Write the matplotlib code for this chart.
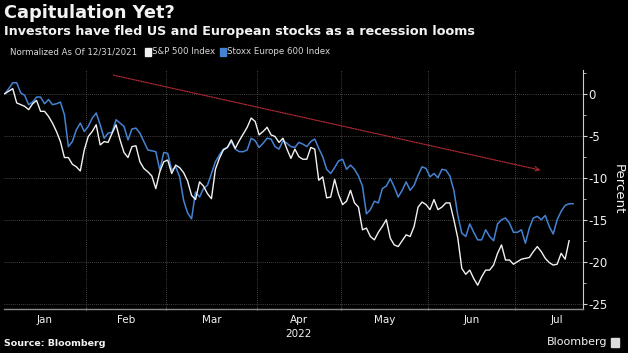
import numpy as np
import pandas as pd
import matplotlib
matplotlib.use("Agg")
import matplotlib.pyplot as plt
from matplotlib.patches import Rectangle

# ---- data (percent change, normalized as of 12/31/2021), one value per weekday from 2022-01-03
stoxx = [
    0.0, 0.6, 1.3, 1.3, 0.1, -0.2, -1.3, -1.0, -0.4, -0.4,
    -1.2, -0.7, -1.3, -1.2, -1.0, -2.5, -6.3, -5.7, -4.3, -3.5,
    -4.5, -3.9, -2.9, -2.3, -3.7, -5.3, -4.7, -4.6, -3.1, -3.5,
    -3.9, -5.5, -4.2, -4.1, -4.7, -5.7, -6.7, -6.8, -6.9, -9.1,
    -7.0, -7.1, -9.1, -8.7, -9.9, -12.7, -14.2, -14.9, -11.7, -12.3,
    -11.3, -10.9, -9.5, -8.1, -7.3, -6.6, -6.4, -5.7, -6.6, -6.9,
    -6.9, -6.7, -5.3, -5.6, -6.4, -5.9, -5.3, -5.4, -6.3, -6.6,
    -5.6, -5.9, -6.3, -6.4, -5.8, -6.0, -6.3, -5.7, -5.4, -6.5,
    -7.5, -9.0, -9.5, -8.8, -8.0, -7.8, -9.0, -8.5, -9.0, -9.8,
    -11.0, -14.3, -13.8, -12.8, -13.0, -11.3, -11.0, -10.1, -11.1, -12.3,
    -11.5, -10.5, -11.5, -10.9, -9.7, -8.7, -8.9, -9.9, -9.5, -10.0,
    -9.0, -9.1, -9.8, -11.5, -14.5, -16.6, -17.0, -15.5, -16.5, -17.4,
    -17.4, -16.2, -17.0, -17.5, -15.5, -15.0, -14.8, -15.4, -16.5, -16.5,
    -16.2, -17.8, -16.0, -14.8, -14.6, -15.0, -14.5, -15.8, -16.7, -15.0,
    -14.0, -13.3, -13.1, -13.1,
]
spx = [
    0.0, 0.3, 0.6, -1.1, -1.3, -1.5, -1.9, -1.2, -0.8, -2.1,
    -2.1, -2.7, -3.5, -4.5, -5.7, -7.6, -7.6, -8.4, -8.7, -9.2,
    -6.7, -5.1, -4.5, -3.7, -6.1, -5.7, -5.8, -4.7, -3.7, -5.5,
    -7.0, -7.6, -6.3, -6.2, -8.1, -8.9, -9.3, -9.8, -11.3, -9.3,
    -8.1, -7.9, -9.5, -8.5, -8.8, -9.4, -10.4, -12.1, -12.6, -10.5,
    -11.0, -11.9, -12.5, -9.0, -7.7, -6.7, -6.4, -5.5, -6.5, -5.6,
    -4.8, -4.0, -2.9, -3.3, -4.9, -4.5, -4.0, -4.9, -5.1, -5.8,
    -5.3, -6.6, -7.7, -6.6, -7.5, -7.8, -7.8, -6.4, -6.6, -10.3,
    -9.9, -12.4, -12.3, -10.2, -12.0, -13.2, -12.8, -11.5, -13.0, -13.5,
    -16.2, -16.0, -17.0, -17.4, -16.5, -15.8, -15.0, -17.2, -18.0, -18.2,
    -17.5, -16.8, -17.0, -15.8, -13.5, -12.9, -13.2, -13.8, -12.6, -13.8,
    -13.5, -13.0, -13.0, -15.0, -17.2, -20.8, -21.5, -21.0, -22.0, -22.8,
    -21.8, -21.0, -21.0, -20.4, -19.0, -18.0, -19.8, -19.8, -20.3, -20.0,
    -19.7, -19.6, -19.5, -18.8, -18.2, -18.8, -19.6, -20.1, -20.4, -20.3,
    -19.0, -19.7, -17.5,
]
series_names = ["S&P 500 Index", "Stoxx Europe 600 Index"]
y_ticks = [0, -5, -10, -15, -20, -25]
month_labels = ["Jan", "Feb", "Mar", "Apr", "May", "Jun", "Jul"]
year_label = "2022"

# ---- weekday axis
days = pd.bdate_range("2022-01-03", "2022-07-29")
pos = np.arange(1, len(days) + 1)
x_stoxx = pos[:len(stoxx)]
x_spx = pos[:len(spx)]
month_start = [pos[np.argmax(days.month == m)] - 0.5 for m in range(1, 8)]
month_end = [pos[np.where(days.month == m)[0][-1]] + 0.5 for m in range(1, 8)]
month_mid = [(a + b) / 2 for a, b in zip(month_start, month_end)]

BG = "black"
WHITE = "#f2f2f2"
BLUE = "#4583d2"
GRID = "#5a5a5a"

fig = plt.figure(figsize=(6.28, 3.53), dpi=100, facecolor=BG)
ax = fig.add_axes([4 / 628, 1 - 309 / 353, 579 / 628, 239 / 353])
ax.set_facecolor(BG)

ax.plot(x_spx, spx, color=WHITE, lw=1.0, zorder=3)
ax.plot(x_stoxx, stoxx, color=BLUE, lw=1.1, zorder=2)

ax.set_xlim(0.8, 146.5)
ax.set_ylim(-25.63, 2.82)

# trend arrow
ax.annotate("", xy=(135.8, -9.1), xytext=(28.4, 2.2),
            arrowprops=dict(arrowstyle="->", color="#b02a33", lw=0.9,
                            linestyle=(0, (1, 1)), shrinkA=0, shrinkB=0,
                            mutation_scale=8), zorder=4)

# grid
for v in y_ticks:
    ax.axhline(v, color=GRID, lw=0.6, ls=(0, (1, 1.5)), zorder=1)
for m in month_start[1:]:
    ax.axvline(m, color=GRID, lw=0.6, ls=(0, (1, 1.5)), zorder=1)

# spines
for s in ["top", "left"]:
    ax.spines[s].set_visible(False)
ax.spines["bottom"].set_color("#8a8a8a")
ax.spines["bottom"].set_linewidth(1.0)
ax.spines["right"].set_color("#cfcfcf")
ax.spines["right"].set_linewidth(0.8)

ax.yaxis.tick_right()
ax.yaxis.set_label_position("right")
ax.set_yticks(y_ticks)
ax.set_yticklabels([str(v) for v in y_ticks], color=WHITE, fontsize=8.5)
ax.set_yticks(np.arange(-25, 2.6, 2.5), minor=True)
ax.tick_params(axis="y", which="major", length=3, width=0.8, color="#cfcfcf", pad=1)
ax.tick_params(axis="y", which="minor", length=2, width=0.6, color="#cfcfcf")
ax.set_ylabel("Percent", color=WHITE, fontsize=9.5, rotation=270, labelpad=12)

ax.set_xticks(month_start[1:])
ax.set_xticklabels([])
ax.tick_params(axis="x", which="major", length=2, width=0.8, color="#8a8a8a", direction="inout")
for lab, mx in zip(month_labels, month_mid):
    ax.text(mx, -0.025, lab, transform=ax.get_xaxis_transform(), ha="center", va="top",
            color=WHITE, fontsize=7.5)
ax.text(month_mid[3], -0.085, year_label, transform=ax.get_xaxis_transform(), ha="center",
        va="top", color=WHITE, fontsize=7.5)

# titles
fig.text(4 / 628, 1 - 13 / 353, "Capitulation Yet?", color=WHITE, fontsize=12.8,
         fontweight="bold", va="center", ha="left")
fig.text(4 / 628, 1 - 32 / 353, "Investors have fled US and European stocks as a recession looms",
         color=WHITE, fontsize=9.2, fontweight="bold", va="center", ha="left")

# legend row
ly = 1 - 52 / 353
fig.text(10 / 628, ly, "Normalized As Of 12/31/2021", color="#d8d8d8", fontsize=6.2,
         va="center", ha="left")
fig.patches.append(Rectangle((145 / 628, ly - 3.5 / 353), 6 / 628, 7 / 353,
                             transform=fig.transFigure, color=WHITE))
fig.text(152 / 628, ly, series_names[0], color="#d8d8d8", fontsize=6.2, va="center", ha="left")
fig.patches.append(Rectangle((220 / 628, ly - 3.5 / 353), 6 / 628, 7 / 353,
                             transform=fig.transFigure, color=BLUE))
fig.text(227 / 628, ly, series_names[1], color="#d8d8d8", fontsize=6.2, va="center", ha="left")

# footer
fig.text(4 / 628, 1 - 343 / 353, "Source: Bloomberg", color=WHITE, fontsize=6.8,
         fontweight="bold", va="center", ha="left")
fig.text(607 / 628, 1 - 342 / 353, "Bloomberg", color=WHITE, fontsize=8,
         va="center", ha="right")
fig.patches.append(Rectangle((611 / 628, 1 - 347 / 353), 8 / 628, 9 / 353,
                             transform=fig.transFigure, color="#dcdcdc"))

fig.savefig("out.png", dpi=100, facecolor=BG)
